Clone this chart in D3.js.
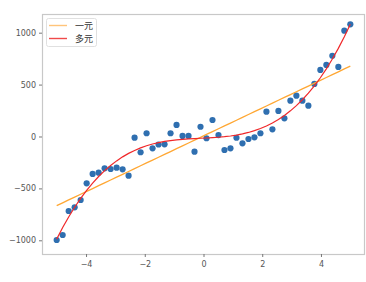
<!DOCTYPE html>
<html><head><meta charset="utf-8">
<script src="https://cdn.jsdelivr.net/npm/d3@7"></script>
<style>body{margin:0;background:#fff}svg{display:block}</style>
</head><body>
<script>
const xValues = d3.range(50).map(i => -5 + i * 10 / 49);
const yValues = [-997,-949,-718,-682,-612,-451,-361,-349,-307,-313,
  -300,-316,-377,-11,-152,31,-114,-77,-75,31,
  111,5,5,-146,94,-17,159,14,-130,-114,
  -12,-66,-24,-8,31,239,69,246,175,345,
  393,345,297,506,641,689,778,670,1019,1081];
const xTicks = [-4,-2,0,2,4];
const yTicks = [-1000,-500,0,500,1000];
const legendLabels = ["一元","多元"];

const W = 366, H = 282;
const m = {l:42, r:1, t:14, b:28};
const svg = d3.select("body").append("svg").attr("width",W).attr("height",H);
const x = d3.scaleLinear().domain([-5.5,5.5]).range([m.l, W-m.r]);
const y = d3.scaleLinear().domain([-1132,1180]).range([H-m.b, m.t]);

function polyfit(xs, ys, deg){
  const n = deg+1;
  const A = Array.from({length:n},()=>new Array(n+1).fill(0));
  xs.forEach((xv,k)=>{
    for(let i=0;i<n;i++){
      for(let j=0;j<n;j++) A[i][j]+=Math.pow(xv,i+j);
      A[i][n]+=ys[k]*Math.pow(xv,i);
    }
  });
  for(let i=0;i<n;i++){
    let p=i; for(let r=i+1;r<n;r++) if(Math.abs(A[r][i])>Math.abs(A[p][i])) p=r;
    [A[i],A[p]]=[A[p],A[i]];
    for(let r=0;r<n;r++) if(r!==i){const f=A[r][i]/A[i][i]; for(let c=i;c<=n;c++) A[r][c]-=f*A[i][c];}
  }
  return A.map((row,i)=>row[n]/row[i]);
}
const evalP = (c,xv)=>c.reduce((s,ci,i)=>s+ci*Math.pow(xv,i),0);
const c1 = polyfit(xValues,yValues,1);
const c3 = polyfit(xValues,yValues,3);

// frame
svg.append("rect").attr("x",m.l+0.5).attr("y",m.t+0.5).attr("width",W-m.r-m.l-1).attr("height",H-m.b-m.t)
  .attr("fill","#fff").attr("stroke","#c8c8c8").attr("stroke-width",1.2);

const xa = svg.append("g").attr("transform",`translate(0,${H-m.b})`)
  .call(d3.axisBottom(x).tickValues(xTicks).tickSize(3).tickPadding(4).tickFormat(d=>d<0?"−"+Math.abs(d):d));
const ya = svg.append("g").attr("transform",`translate(${m.l},0)`)
  .call(d3.axisLeft(y).tickValues(yTicks).tickSize(3).tickPadding(3).tickFormat(d=>d<0?"−"+Math.abs(d):d));
[xa,ya].forEach(g=>{
  g.select(".domain").remove();
  g.selectAll("line").attr("stroke","#777");
  g.selectAll("text").attr("fill","#555").style("font-family","'DejaVu Sans',sans-serif").style("font-size","8px");
});

// points
svg.append("g").selectAll("circle").data(xValues).join("circle")
  .attr("cx",d=>x(d)).attr("cy",(d,i)=>y(yValues[i])).attr("r",3.1).attr("fill","#2f6fb0");

const line = d3.line().x(d=>x(d[0])).y(d=>y(d[1]));
svg.append("path").datum(xValues.map(v=>[v,evalP(c1,v)])).attr("d",line)
  .attr("fill","none").attr("stroke","#ffa733").attr("stroke-width",1.3);
svg.append("path").datum(xValues.map(v=>[v,evalP(c3,v)])).attr("d",line)
  .attr("fill","none").attr("stroke","#f0282a").attr("stroke-width",1.2);

// legend
const lg = svg.append("g");
lg.append("rect").attr("x",46.5).attr("y",18.5).attr("width",50).attr("height",28).attr("rx",2)
  .attr("fill","#fff").attr("stroke","#e0e0e0");
const colors = ["#ffc47a","#f04a4a"];
legendLabels.forEach((t,i)=>{
  const yy = 25.5 + i*13;
  lg.append("line").attr("x1",49).attr("x2",67).attr("y1",yy).attr("y2",yy).attr("stroke",colors[i]).attr("stroke-width",1.4);
  lg.append("text").attr("x",75).attr("y",yy+3.5).text(t).attr("fill","#333")
    .style("font-family","'Noto Sans CJK SC',sans-serif").style("font-size","9px");
});
</script>
</body></html>
